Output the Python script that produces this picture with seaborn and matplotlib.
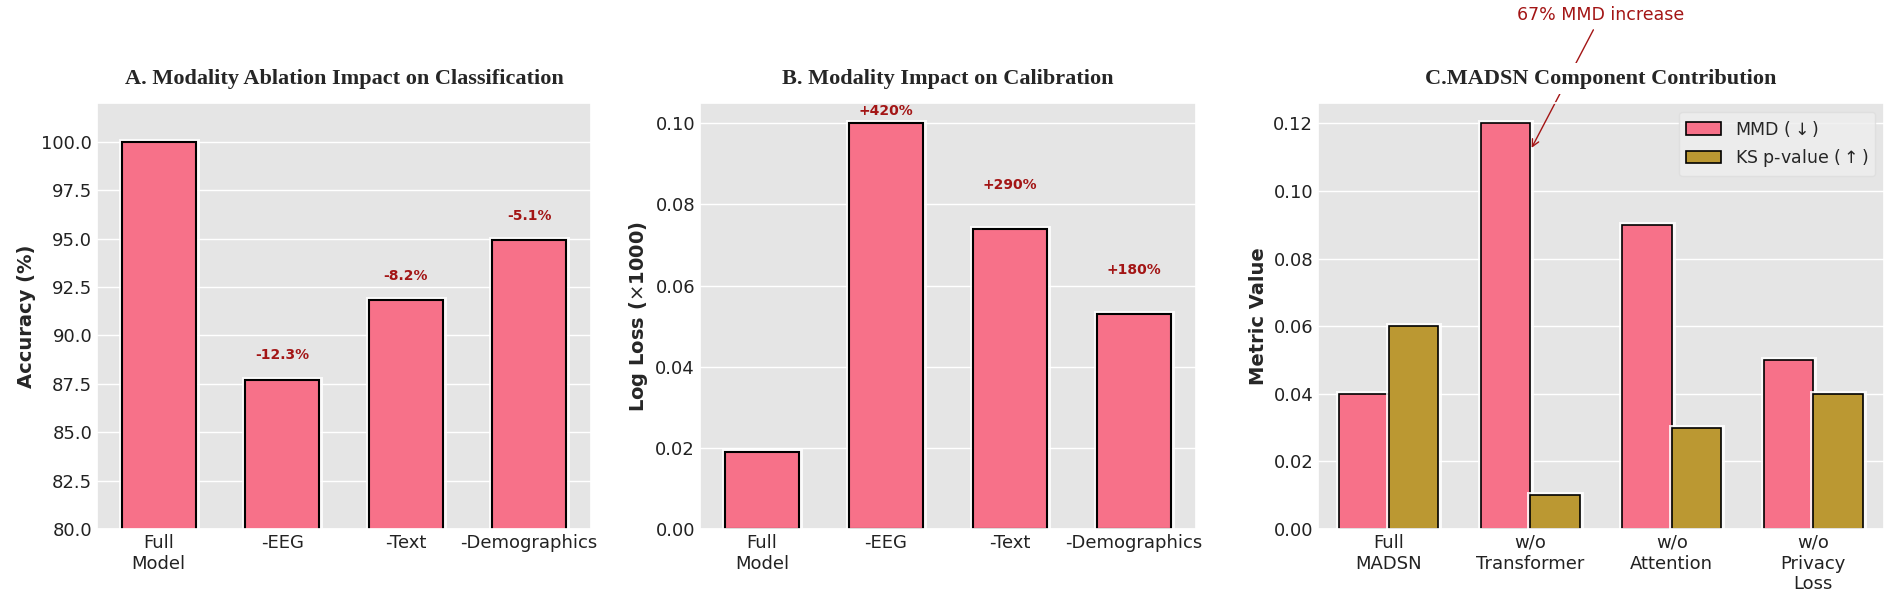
import matplotlib
matplotlib.use('Agg')
import matplotlib.pyplot as plt
import matplotlib.patheffects as pe
import seaborn as sns
import pandas as pd

# panel A
mods = ['Full\nModel', '-EEG', '-Text', '-Demographics']
acc = [100.0, 87.7, 91.8, 94.9]
acc_drop = ['', '-12.3%', '-8.2%', '-5.1%']

# panel B
logloss = [0.019, 0.100, 0.074, 0.053]
loss_inc = ['', '+420%', '+290%', '+180%']

# panel C
comps = ['Full\nMADSN', 'w/o\nTransformer', 'w/o\nAttention', 'w/o\nPrivacy\nLoss']
mmd = [0.04, 0.12, 0.09, 0.05]
ks_p = [0.06, 0.01, 0.03, 0.04]

sns.set_theme(style='darkgrid', rc={
    'axes.facecolor': '#e5e5e5',
    'grid.color': 'white',
    'grid.linewidth': 1.0,
    'xtick.color': '#222222',
    'ytick.color': '#222222',
})
plt.rcParams['font.family'] = ['DejaVu Sans']

pink = '#f77189'
gold = '#bb9832'
red = '#a31515'
halo = [pe.withStroke(linewidth=5, foreground='white', alpha=0.85)]

fig = plt.figure(figsize=(19.02, 5.98), dpi=100)
axA = fig.add_axes([0.0510, 0.1154, 0.2597, 0.7124])
axB = fig.add_axes([0.3680, 0.1154, 0.2608, 0.7124])
axC = fig.add_axes([0.6930, 0.1154, 0.2976, 0.7124])

title_kw = dict(fontfamily='Liberation Serif', fontweight='bold', fontsize=16, pad=14)
label_kw = dict(fontweight='bold', fontsize=14)

# A
sns.barplot(x=mods, y=acc, color=pink, width=0.6, edgecolor='black',
            linewidth=1.5, saturation=1, ax=axA)
axA.set_ylim(80, 102)
for i, (v, t) in enumerate(zip(acc, acc_drop)):
    if t:
        axA.text(i, v + 0.9, t, ha='center', va='bottom', color=red,
                 fontsize=10, fontweight='bold')
axA.set_title('A. Modality Ablation Impact on Classification', **title_kw)
axA.set_ylabel('Accuracy (%)', **label_kw)

# B
sns.barplot(x=mods, y=logloss, color=pink, width=0.6, edgecolor='black',
            linewidth=1.5, saturation=1, ax=axB)
axB.set_ylim(0, max(logloss) * 1.05)
for i, (v, t) in enumerate(zip(logloss, loss_inc)):
    if t:
        axB.text(i, min(v + 0.009, 0.1012), t, ha='center', va='bottom',
                 color=red, fontsize=10, fontweight='bold')
axB.set_title('B. Modality Impact on Calibration', **title_kw)
axB.set_ylabel('Log Loss ($\\times$1000)', **label_kw)

# C
dfC = pd.DataFrame({'comp': comps * 2,
                    'val': mmd + ks_p,
                    'metric': ['MMD ($\\downarrow$)'] * 4 + ['KS p-value ($\\uparrow$)'] * 4})
sns.barplot(data=dfC, x='comp', y='val', hue='metric', palette=[pink, gold],
            width=0.7, edgecolor='black', linewidth=1.2, saturation=1, ax=axC)
axC.set_ylim(0, max(mmd) * 1.05)
axC.set_ylabel('Metric Value', **label_kw)
axC.set_xlabel('')
t = axC.set_title('C.MADSN Component Contribution', **title_kw,
                  bbox=dict(facecolor='white', edgecolor='none', pad=4))
t.set_zorder(10)
axC.annotate('67% MMD increase', xy=(1.0, 0.112), xytext=(1.5, 0.152),
             ha='center', va='center', color=red, fontsize=12.5,
             annotation_clip=False, zorder=2,
             arrowprops=dict(arrowstyle='->', color=red, lw=1))
axC.legend(loc='upper right', fontsize=12.5, frameon=True, facecolor='#eeeeee',
           framealpha=0.8, edgecolor='#dddddd')

for ax in (axA, axB, axC):
    ax.tick_params(axis='both', labelsize=13, length=0)
    for b in ax.patches:
        b.set_path_effects(halo)

fig.savefig('out.png', dpi=100)
